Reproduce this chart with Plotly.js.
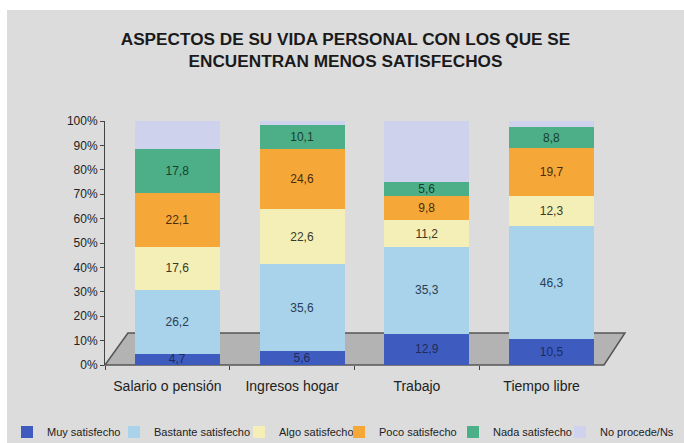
<!DOCTYPE html>
<html>
<head>
<meta charset="utf-8">
<script src="https://cdn.plot.ly/plotly-3.0.1.min.js"></script>
<style>
html,body{margin:0;padding:0;background:#ffffff;}
#chart{position:absolute;left:7px;top:10px;width:677px;height:433px;}
</style>
</head>
<body>
<div id="chart"></div>
<script>
const categories = ['Salario o pensión', 'Ingresos hogar', 'Trabajo', 'Tiempo libre'];
const muySatisfecho = [4.7, 5.6, 12.9, 10.5];
const bastanteSatisfecho = [26.2, 35.6, 35.3, 46.3];
const algoSatisfecho = [17.6, 22.6, 11.2, 12.3];
const pocoSatisfecho = [22.1, 24.6, 9.8, 19.7];
const nadaSatisfecho = [17.8, 10.1, 5.6, 8.8];
const noProcede = [11.6, 1.5, 25.2, 2.4];
const yTickVals = [0, 10, 20, 30, 40, 50, 60, 70, 80, 90, 100];
const yTickText = ['0%', '10%', '20%', '30%', '40%', '50%', '60%', '70%', '80%', '90%', '100%'];

const font = '"Liberation Sans Narrow", "Liberation Sans", Arial, sans-serif';
const fmt = v => v.toFixed(1).replace('.', ',');

function mk(name, vals, color, showText, txtColor, lw) {
  return {
    type: 'bar', name: name, x: categories, y: vals,
    marker: {color: color, line: {width: 0}},
    width: 0.68, offset: -0.26,
    text: showText ? vals.map(fmt) : null,
    textposition: showText ? 'inside' : 'none',
    insidetextanchor: 'middle',
    constraintext: 'none',
    textangle: 0,
    textfont: {family: font, size: 12, color: txtColor || '#2a2a2a'},
    legendwidth: lw,
    hoverinfo: 'name+y'
  };
}

const data = [
  mk('Muy satisfecho', muySatisfecho, '#3e5cc0', true, '#1e2a5a', 62),
  mk('Bastante satisfecho', bastanteSatisfecho, '#a9d3ea', true, '#2a3d55', 80),
  mk('Algo satisfecho', algoSatisfecho, '#f3efb6', true, '#3a3a2a', 55),
  mk('Poco satisfecho', pocoSatisfecho, '#f5a838', true, '#4a2a10', 69),
  mk('Nada satisfecho', nadaSatisfecho, '#4daf88', true, '#16402e', 62),
  mk('No procede/Ns', noProcede, '#cfd2ec', false, null, 76)
];

const layout = {
  width: 677, height: 433,
  paper_bgcolor: '#dcdcdc', plot_bgcolor: 'rgba(0,0,0,0)',
  margin: {l: 0, r: 0, t: 111, b: 78, autoexpand: false},
  barmode: 'stack',
  showlegend: true,
  title: {
    text: 'ASPECTOS DE SU VIDA PERSONAL CON LOS QUE SE<br>ENCUENTRAN MENOS SATISFECHOS',
    font: {family: font, size: 17.2, color: '#1a1a1a', weight: 'bold'},
    x: 0.5, xanchor: 'center', y: 0.92, yanchor: 'top'
  },
  xaxis: {
    type: 'category', range: [-0.5, 3.5], domain: [0.14476, 0.88183],
    tickson: 'boundaries', ticks: 'outside', ticklen: 4, tickcolor: '#444',
    tickangle: 0, ticklabelstandoff: 11,
    showline: false, showgrid: false, zeroline: false,
    tickfont: {family: font, size: 14, color: '#222'}
  },
  yaxis: {
    range: [0, 100], tickvals: yTickVals, ticktext: yTickText,
    ticks: 'outside', ticklen: 4, tickcolor: '#444',
    showline: true, linecolor: '#444', linewidth: 1,
    showgrid: false, zeroline: false,
    tickfont: {family: font, size: 12, color: '#222'}
  },
  legend: {
    orientation: 'h', xref: 'container', yref: 'container',
    x: 0.0, xanchor: 'left', y: 0.0254, yanchor: 'middle',
    font: {family: font, size: 11, color: '#222'},
    itemwidth: 30, traceorder: 'normal', bgcolor: 'rgba(0,0,0,0)',
    borderwidth: 0
  },
  shapes: [
    {type: 'path', xref: 'x domain', yref: 'y domain', layer: 'below',
     path: 'M 0,0 L 0.046,0.131 L 1.042,0.131 L 1.0,0 Z',
     fillcolor: '#b3b3b3', line: {color: '#555', width: 1.5}}
  ]
};

Plotly.newPlot('chart', data, layout, {displayModeBar: false, staticPlot: true});
</script>
</body>
</html>
